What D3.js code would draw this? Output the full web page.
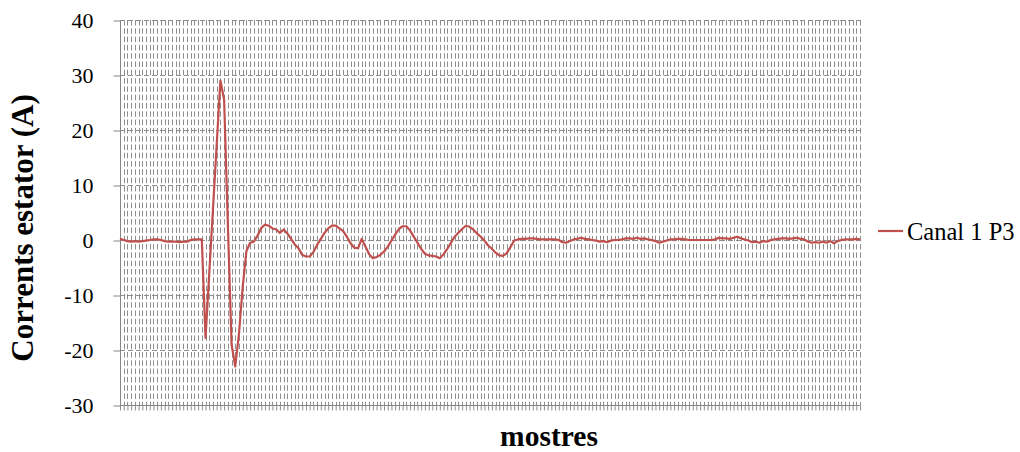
<!DOCTYPE html>
<html>
<head>
<meta charset="utf-8">
<script src="https://cdn.jsdelivr.net/npm/d3@7"></script>
<style>
  html, body { margin: 0; padding: 0; background: #ffffff; }
  svg { display: block; }
  .serif { font-family: "Liberation Serif", "Times New Roman", Times, serif; }
</style>
</head>
<body>
<svg id="chart" width="1020" height="452"></svg>
<script>
// ---- data ----
const seriesName = "Canal 1 P3";
const yTicks = [-30, -20, -10, 0, 10, 20, 30, 40];
const values = [
  0.2, 0, -0.2, -0.3, -0.2, -0.3, -0.2, -0.1, 0, 0.1,
  0.1, 0, -0.2, -0.3, -0.3, -0.3, -0.4, -0.3, -0.3, 0,
  0.1, 0.1, 0.1, -17.8, -6.1, 5.6, 17.3, 29, 25.5, 3,
  -19, -23, -17, -8.5, -2, -0.5, -0.3, 0.8, 2.2, 2.8,
  2.6, 2.1, 1.9, 1.3, 1.9, 1.2, 0.2, -0.8, -1.5, -2.7,
  -3.0, -3.0, -2.2, -0.9, 0.2, 1.3, 2.1, 2.6, 2.6, 2.1,
  1.6, 0.6, -0.6, -1.4, -1.5, 0.2, -1.2, -2.6, -3.3, -3.1,
  -2.7, -2.1, -1.2, -0.1, 1.0, 2.0, 2.5, 2.5, 1.7, 0.6,
  -0.5, -1.6, -2.5, -2.8, -2.9, -3.0, -3.3, -2.6, -1.6, -0.5,
  0.6, 1.3, 2.0, 2.6, 2.4, 1.9, 1.2, 0.6, -0.1, -1.0,
  -1.6, -2.3, -2.8, -2.9, -2.4, -1.3, -0.1, 0.1, 0.2, 0.2,
  0.3, 0.3, 0.2, 0.1, 0.1, 0.1, 0.1, 0.1, 0, -0.4,
  -0.5, -0.2, 0.1, 0.2, 0.4, 0.2, 0.1, 0, -0.1, -0.3,
  -0.2, -0.4, -0.1, 0, 0, 0.1, 0.3, 0.3, 0.2, 0.4,
  0.2, 0.3, 0.1, 0, -0.2, -0.5, -0.3, -0.1, 0.1, 0.1,
  0.2, 0.2, 0.1, 0, 0, 0, 0, 0, 0, 0,
  0.1, 0.4, 0.3, 0.3, 0.2, 0.4, 0.6, 0.3, 0.1, -0.1,
  -0.4, -0.3, -0.5, -0.2, -0.3, 0, 0.1, 0.2, 0.3, 0.3,
  0.2, 0.3, 0.4, 0.2, 0.1, -0.3, -0.5, -0.4, -0.5, -0.3,
  -0.5, -0.2, -0.6, -0.2, 0, 0.1, 0.1, 0.1, 0.2, 0.1
];
const samples = values.map((v, i) => i + 1);
const yTitle = "Corrents estator (A)";
const xTitle = "mostres";

// ---- layout ----
const M = { left: 120, right: 860, top: 20, bottom: 405 };
const svg = d3.select("#chart");
const gridColor = "#8e8e8e";
const lineColor = "#c0504d";

const x = d3.scalePoint().domain(samples).range([M.left, M.right]).padding(0);
const y = d3.scaleLinear().domain([-30, 40]).range([M.bottom, M.top]);

// vertical dashed gridlines at every sample
svg.append("g").selectAll("line")
  .data(samples.slice(1))
  .join("line")
  .attr("x1", d => Math.round(x(d)) + 0.5).attr("x2", d => Math.round(x(d)) + 0.5)
  .attr("y1", M.top).attr("y2", M.bottom)
  .attr("stroke", gridColor).attr("stroke-width", 1)
  .attr("stroke-dasharray", "5.5,2.8");

// horizontal dashed gridlines
svg.append("g").selectAll("line")
  .data(yTicks.filter(t => t !== -30))
  .join("line")
  .attr("x1", M.left).attr("x2", M.right)
  .attr("y1", d => Math.round(y(d)) + 0.5).attr("y2", d => Math.round(y(d)) + 0.5)
  .attr("stroke", gridColor).attr("stroke-width", 1)
  .attr("stroke-dasharray", "5,3");

// x axis (bottom) with a tick at every sample
const xAxis = d3.axisBottom(x).tickSize(5).tickFormat("");
const gx = svg.append("g").attr("transform", `translate(0,${M.bottom + 0.5})`).call(xAxis);
gx.select(".domain").attr("stroke", "#868686").attr("d", `M${M.left},0H${M.right}`);
gx.selectAll(".tick line").attr("stroke", gridColor);

// y axis
const yAxis = d3.axisLeft(y).tickValues(yTicks).tickSize(7).tickPadding(20).tickFormat(d => String(d));
const gy = svg.append("g").attr("transform", `translate(${M.left + 0.5},0.5)`).call(yAxis);
gy.attr("font-family", null).attr("font-size", null);
gy.select(".domain").attr("stroke", "#868686").attr("d", `M0,${M.top}V${M.bottom}`);
gy.selectAll(".tick line").attr("stroke", "#868686");
gy.selectAll(".tick text")
  .attr("class", "serif").style("font-size", "22px").attr("fill", "#000");

// series line
const line = d3.line().x((d, i) => x(samples[i])).y(d => y(d));
svg.append("path")
  .datum(values)
  .attr("d", line)
  .attr("fill", "none")
  .attr("stroke", lineColor)
  .attr("stroke-width", 2.2)
  .attr("stroke-linejoin", "round");

// axis titles
svg.append("text")
  .attr("class", "serif")
  .attr("transform", "translate(33,228) rotate(-90)")
  .attr("text-anchor", "middle")
  .style("font-weight", "bold").style("font-size", "31px")
  .text(yTitle);

svg.append("text")
  .attr("class", "serif")
  .attr("x", 549).attr("y", 445.5)
  .attr("text-anchor", "middle")
  .style("font-weight", "bold").style("font-size", "29.5px")
  .text(xTitle);

// legend
const lg = svg.append("g").attr("transform", "translate(878,231)");
lg.append("line").attr("x1", 0).attr("x2", 25).attr("y1", 0).attr("y2", 0)
  .attr("stroke", lineColor).attr("stroke-width", 2.2);
lg.append("text").attr("class", "serif").attr("x", 29).attr("y", 8.5)
  .style("font-size", "24.5px").attr("fill", "#000")
  .text(seriesName);
</script>
</body>
</html>
